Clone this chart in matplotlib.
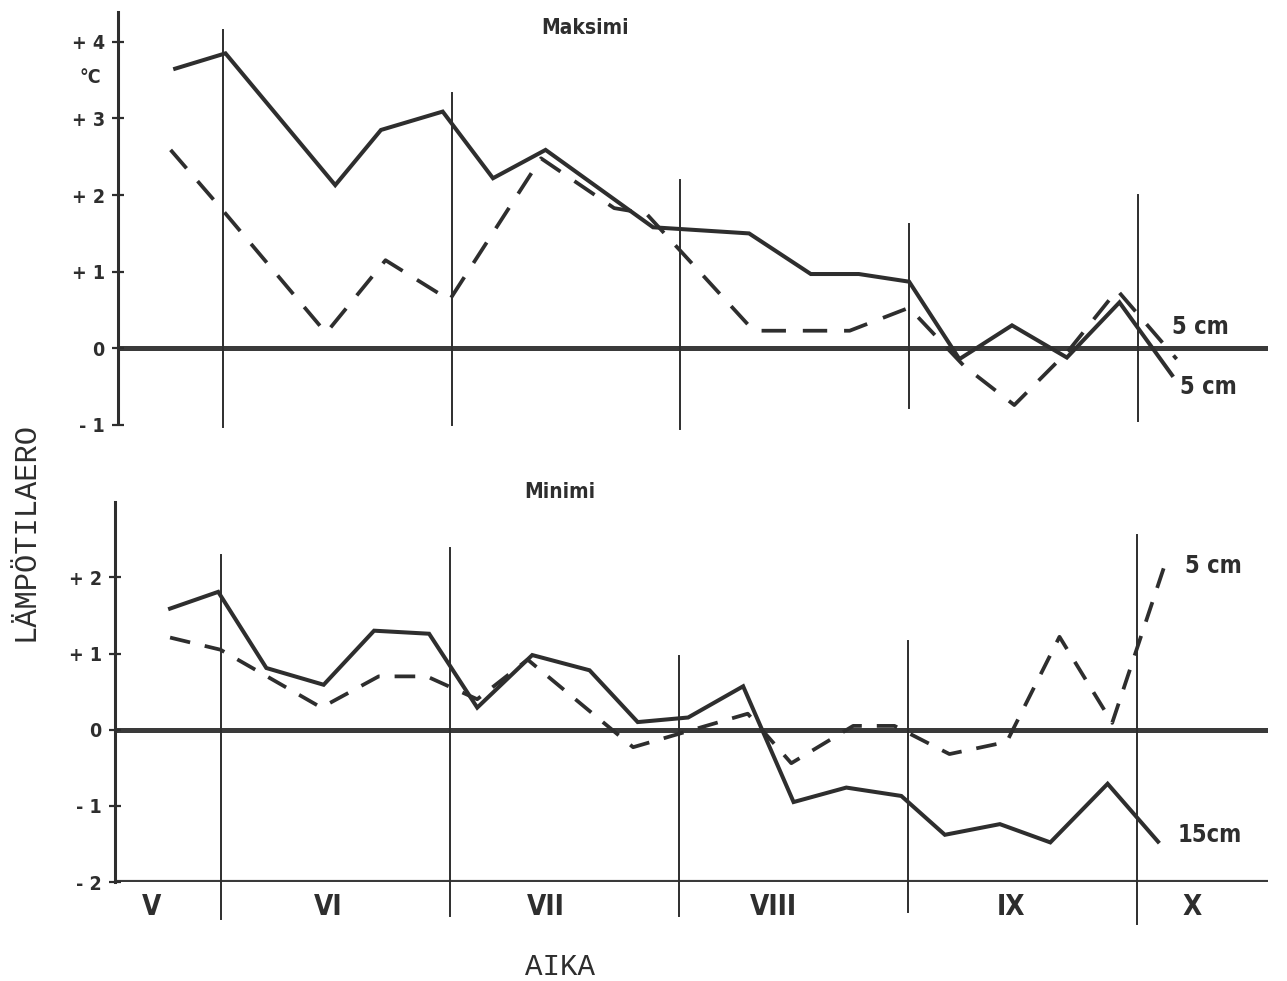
import matplotlib
matplotlib.use("Agg")
import matplotlib.pyplot as plt

# x positions in months counted from start of May (1 = VI begins, 2 = VII ...)
max_x_15 = [0.79, 1.01, 1.49, 1.69, 1.96, 2.18, 2.41, 2.88, 3.30, 3.57, 3.78, 4.00, 4.22, 4.45, 4.69, 4.92, 5.15]
max_15 = [3.65, 3.85, 2.13, 2.85, 3.09, 2.22, 2.59, 1.58, 1.50, 0.97, 0.97, 0.87, -0.14, 0.30, -0.12, 0.60, -0.35]
max_x_5 = [0.77, 0.99, 1.45, 1.71, 1.99, 2.39, 2.71, 2.85, 3.32, 3.74, 4.00, 4.24, 4.46, 4.70, 4.91, 5.17]
max_5 = [2.59, 1.83, 0.20, 1.15, 0.63, 2.48, 1.83, 1.76, 0.23, 0.23, 0.53, -0.23, -0.74, -0.02, 0.76, -0.14]

min_x_15 = [0.78, 0.99, 1.20, 1.45, 1.67, 1.91, 2.12, 2.36, 2.61, 2.82, 3.04, 3.28, 3.50, 3.73, 3.97, 4.16, 4.40, 4.62, 4.87, 5.09]
min_15 = [1.59, 1.81, 0.81, 0.59, 1.30, 1.26, 0.29, 0.98, 0.78, 0.10, 0.16, 0.57, -0.95, -0.76, -0.87, -1.38, -1.24, -1.48, -0.71, -1.47]
min_x_5 = [0.78, 1.00, 1.44, 1.69, 1.90, 2.12, 2.34, 2.80, 3.30, 3.49, 3.76, 3.94, 4.18, 4.43, 4.66, 4.89, 5.13]
min_5 = [1.21, 1.05, 0.29, 0.70, 0.70, 0.40, 0.92, -0.23, 0.21, -0.44, 0.05, 0.05, -0.32, -0.16, 1.22, 0.09, 2.26]

month_bounds = [1, 2, 3, 4, 5]
month_pos = [0.70, 1.47, 2.42, 3.41, 4.45, 5.24]
month_labels = ["V", "VI", "VII", "VIII", "IX", "X"]

max_ticks = [4, 3, 2, 1, 0, -1]
max_ticklabels = ["+ 4", "+ 3", "+ 2", "+ 1", "0", "- 1"]
min_ticks = [2, 1, 0, -1, -2]
min_ticklabels = ["+ 2", "+ 1", "0", "- 1", "- 2"]

INK = "#2e2e2e"
BOLD = dict(family=["DejaVu Sans"], fontweight="bold", fontstretch="condensed", color=INK)
MONO = dict(family=["Liberation Mono", "DejaVu Sans Mono"], color=INK)

fig = plt.figure(figsize=(12.87, 9.81), dpi=100)
XL = (0.54, 5.57)

ax1 = fig.add_axes([0.0917, 0.5668, 0.8936, 0.4210])
ax2 = fig.add_axes([0.0894, 0.1009, 0.8959, 0.3874])


def style_axis(ax, ylim, ticks, labels, bounds):
    ax.set_xlim(*XL)
    ax.set_ylim(*ylim)
    for s in ["top", "right", "bottom"]:
        ax.spines[s].set_visible(False)
    ax.spines["left"].set_linewidth(2.2)
    ax.spines["left"].set_color(INK)
    ax.spines["left"].set_bounds(*bounds)
    ax.set_yticks(ticks)
    ax.set_yticklabels(labels, fontsize=14, **BOLD)
    ax.tick_params(axis="y", direction="inout", length=9, width=1.6, color=INK, pad=5)
    ax.axhline(0, color="#3a3a3a", lw=3.6, zorder=1)


style_axis(ax1, (-0.97, 4.39), max_ticks, max_ticklabels, (-0.97, 4.39))
ax1.set_xticks([])
style_axis(ax2, (-2.0, 2.99), min_ticks, min_ticklabels, (-2.0, 2.99))
ax2.axhline(-2, color="#3a3a3a", lw=3.0, zorder=1)
ax2.set_xticks(month_pos)
ax2.set_xticklabels(month_labels, fontsize=20, **BOLD)
ax2.tick_params(axis="x", length=0, pad=8)

# month boundary lines
top_spans = [(-1.02, 4.15), (-1.0, 3.33), (-1.05, 2.2), (-0.78, 1.62), (-0.95, 2.0)]
bot_spans = [(-2.48, 2.29), (-2.45, 2.38), (-2.45, 0.97), (-2.40, 1.17), (-2.55, 2.55)]
for xb, (lo, hi) in zip(month_bounds, top_spans):
    ax1.plot([xb, xb], [lo, hi], color=INK, lw=1.4, clip_on=False, zorder=1)
for xb, (lo, hi) in zip(month_bounds, bot_spans):
    ax2.plot([xb, xb], [lo, hi], color=INK, lw=1.4, clip_on=False, zorder=1)

dash = (0, (6.5, 4.5))
ax1.plot(max_x_15, max_15, color=INK, lw=2.9, solid_joinstyle="miter", zorder=3)
ax1.plot(max_x_5, max_5, color=INK, lw=2.7, linestyle=dash, zorder=3)
ax2.plot(min_x_15, min_15, color=INK, lw=2.9, solid_joinstyle="miter", zorder=3)
ax2.plot(min_x_5, min_5, color=INK, lw=2.7, linestyle=(0, (5.5, 4.0)), zorder=3)

fig.text(0.4545, 0.9715, "Maksimi", ha="center", va="center", fontsize=15, **BOLD)
fig.text(0.435, 0.4985, "Minimi", ha="center", va="center", fontsize=15, **BOLD)
fig.text(0.0700, 0.9215, "°C", ha="center", va="center", fontsize=14, **BOLD)

fig.text(0.9107, 0.6667, "5 cm", ha="left", va="center", fontsize=17, **BOLD)
fig.text(0.9169, 0.6055, "5 cm", ha="left", va="center", fontsize=17, **BOLD)
fig.text(0.9207, 0.4230, "5 cm", ha="left", va="center", fontsize=17, **BOLD)
fig.text(0.9153, 0.1488, "15cm", ha="left", va="center", fontsize=17, **BOLD)

fig.text(0.0195, 0.458, "LÄMPÖTILAERO", rotation=90, ha="center", va="center", fontsize=22, **MONO)
fig.text(0.435, 0.0143, "AIKA", ha="center", va="center", fontsize=21, **MONO)

fig.savefig("out.png", dpi=100, facecolor="white")
